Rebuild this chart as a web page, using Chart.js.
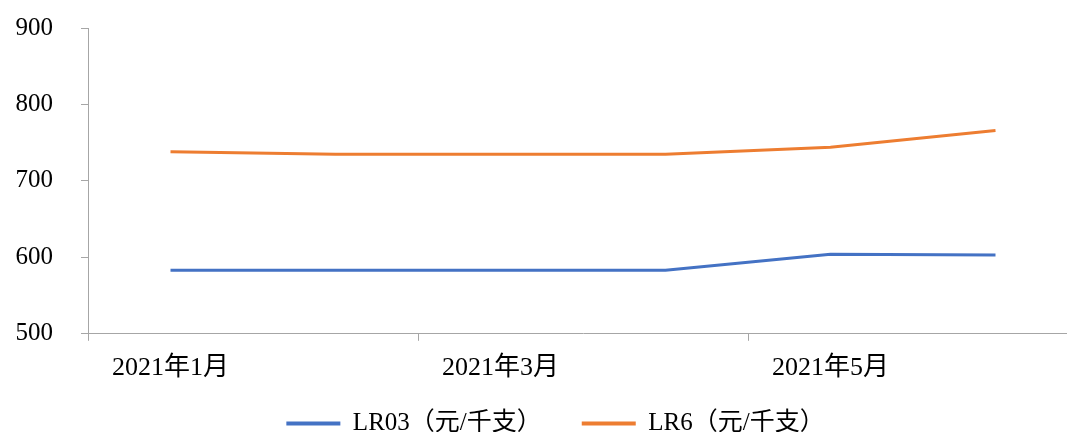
<!DOCTYPE html>
<html>

<head>
    <title>LR03 / LR6 价格</title>
    <script src="https://cdn.jsdelivr.net/npm/chart.js"></script>
    <meta name="viewport" content="width=device-width, initial-scale=1">
    <style>
        html, body { margin: 0; background: #fff; overflow: hidden; }
        /* 画布比窗口略大，右侧和底部被裁掉，和原图一样 */
        #wrap { width: 1078px; height: 471px; }
    </style>
</head>

<body>
    <div id="wrap"><canvas id="priceChart"></canvas></div>
</body>

</html>

<script>
    // 数据
    const months = ['2021年1月', '2021年2月', '2021年3月', '2021年4月', '2021年5月', '2021年6月'];
    const lr03 = [583, 583, 583, 583, 604, 603];
    const lr6 = [738, 735, 735, 735, 744, 766];
    const yTicks = [500, 600, 700, 800, 900];

    const axisGrey = '#a6a6a6';
    const serif = '"Liberation Serif", "Noto Sans CJK SC", serif';

    // 图例往上、往右挪一点
    const legendNudge = {
        id: 'legendNudge',
        afterLayout(chart) {
            const lg = chart.legend;
            lg.left += 9; lg.right += 9;
            lg.top -= 25; lg.bottom -= 25;
        }
    };

    const ctx = document.getElementById('priceChart').getContext('2d');
    const chart = new Chart(ctx, {
        type: 'line',
        data: {
            labels: months,
            datasets: [{
                label: 'LR03（元/千支）',
                data: lr03,
                borderColor: '#4472C4',
                backgroundColor: '#4472C4',
                borderWidth: 3,
                pointRadius: 0,
                tension: 0
            }, {
                label: 'LR6（元/千支）',
                data: lr6,
                borderColor: '#ED7D31',
                backgroundColor: '#ED7D31',
                borderWidth: 3,
                pointRadius: 0,
                tension: 0
            }]
        },
        options: {
            responsive: true,
            maintainAspectRatio: false,
            animation: false,
            layout: {
                padding: { left: 15, right: 0, top: 0, bottom: 0 }
            },
            plugins: {
                tooltip: { enabled: false },
                legend: {
                    position: 'bottom',
                    labels: {
                        color: '#000',
                        font: { family: serif, size: 25 },
                        boxWidth: 54,
                        boxHeight: 4,
                        padding: 40,
                        generateLabels: (c) => Chart.defaults.plugins.legend.labels.generateLabels(c)
                            .map(l => ({ ...l, lineWidth: 0 }))
                    }
                }
            },
            scales: {
                x: {
                    offset: true,
                    grid: {
                        offset: true,
                        drawOnChartArea: false,
                        tickLength: 7,
                        // 只在每两个类别之间画刻度线
                        color: (c) => (c.index !== undefined && c.index % 2 === 0) ? axisGrey : 'rgba(0,0,0,0)'
                    },
                    border: { display: true, color: axisGrey, width: 1 },
                    ticks: {
                        autoSkip: false,
                        maxRotation: 0,
                        color: '#000',
                        padding: 12,
                        font: { family: serif, size: 26 },
                        callback: function (v, i) { return i % 2 === 0 ? this.getLabelForValue(v) : ''; }
                    }
                },
                y: {
                    min: yTicks[0],
                    max: yTicks[yTicks.length - 1],
                    afterBuildTicks: (axis) => { axis.ticks = yTicks.map(v => ({ value: v })); },
                    grid: {
                        drawOnChartArea: false,
                        tickLength: 7,
                        color: axisGrey
                    },
                    border: { display: true, color: axisGrey, width: 1 },
                    ticks: {
                        color: '#000',
                        padding: 28,
                        font: { family: serif, size: 25 }
                    },
                    afterFit: (axis) => {
                        axis.width = 73;
                        axis.paddingTop = 28;
                        axis.paddingBottom = 0;
                    }
                }
            }
        },
        plugins: [legendNudge]
    });
</script>
